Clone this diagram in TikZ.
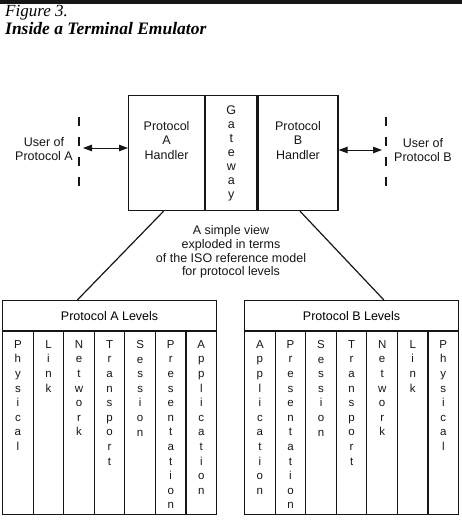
\documentclass[tikz,border=0pt]{standalone}
\usepackage{fontspec}
\setmainfont{Liberation Serif}
\setsansfont{Liberation Sans}
\usetikzlibrary{arrows.meta, positioning, calc}
\definecolor{inkDark}{HTML}{161616}
\setlength{\parindent}{0pt}
\makeatletter
\def\vword#1{\expandafter\vw@go#1\@nil}
\def\vw@go#1{\ifx#1\@nil\else#1\par\expandafter\vw@go\fi}
\makeatother
\tikzset{
  arrowBoth/.style={{Triangle[length=9pt,width=6.5pt]}-{Triangle[length=9pt,width=6.5pt]},
                    inkDark, line width=1pt},
  sepLine/.style={inkDark, line width=1.2pt, dash pattern=on 9pt off 11pt},
  boxTop/.style={rectangle, draw=inkDark, line width=1.2pt, minimum height=115pt,
                 inner sep=0pt, anchor=north west},
  txtTop/.style={inner sep=0pt, align=center, anchor=north, text=inkDark,
                 font=\sffamily\fontsize{12.5}{14.5}\selectfont},
  txtPlain/.style={inner sep=0pt, align=center, text=inkDark,
                   font=\sffamily\fontsize{12.5}{13.8}\selectfont},
  lvlHead/.style={rectangle, draw=inkDark, line width=1.2pt, minimum width=214pt,
                  minimum height=30pt, inner sep=0pt, anchor=north west,
                  font=\sffamily\fontsize{12.5}{14}\selectfont},
  lvlCol/.style={rectangle, draw=inkDark, line width=1.2pt, minimum width=30.57pt,
                 minimum height=183pt, inner sep=0pt, anchor=north west},
  lvlText/.style={text width=20pt, align=center, anchor=north, inner sep=0pt, text=inkDark,
                  font=\sffamily\fontsize{11.5}{14.6}\selectfont},
}
\begin{document}
\begin{tikzpicture}[x=1pt, y=-1pt]
  \useasboundingbox (0,0) rectangle (462,524);
  \draw[line width=4pt, inkDark] (0,2) -- (462,2);
  \node[anchor=base west, inner sep=0pt, font=\itshape\fontsize{17}{20}\selectfont] (fig) at (5,17) {Figure 3.};
  \node[anchor=base west, inner sep=0pt, font=\bfseries\itshape\fontsize{17.5}{20}\selectfont] (ttl) at (5,35) {Inside a Terminal Emulator};

  % the emulator
  \node[boxTop, minimum width=76pt] (handA) at (128,95) {};
  \node[boxTop, minimum width=51pt, right=0pt of handA.north east, anchor=north west] (gate) {};
  \node[boxTop, minimum width=80pt, right=0pt of gate.north east, anchor=north west] (handB) {};
  \node[txtTop, below=26pt of handA.north] (handAtxt) {Protocol\\A\\Handler};
  \node[txtTop, below=26pt of handB.north] (handBtxt) {Protocol\\B\\Handler};
  \node[txtTop, below=11pt of gate.north, font=\sffamily\fontsize{12.5}{14}\selectfont] (gatetxt) {G\\a\\t\\e\\w\\a\\y};

  % users on both sides
  \node[txtPlain] (userA) at (44,149) {User of\\Protocol A};
  \node[txtPlain] (userB) at (423,150) {User of\\Protocol B};
  \coordinate (sepA) at (79,148);
  \coordinate (sepB) at (386,150);
  \draw[sepLine] (79,117) -- (79,186);
  \draw[sepLine] (386,117) -- (386,186);
  \draw[arrowBoth] ([xshift=4pt]sepA) -- (handA.west |- sepA);
  \draw[arrowBoth] (handB.east |- sepB) -- ([xshift=-4pt]sepB);

  \node[txtPlain] (explain) at (231,252) {A simple view\\exploded in terms\\of the ISO reference model\\for protocol levels};

  % the two level stacks
  \node[lvlHead] (levA) at (2,300) {Protocol A Levels};
  \node[lvlHead] (levB) at (244,300) {Protocol B Levels};
  \foreach \w [count=\i] in {Physical,Link,Network,Transport,Session,Presentation,Application} {
    \node[lvlCol] (a\i) at ($(levA.south west)+(\i*30.57-30.57,0)$) {};
    \node[lvlText] (ta\i) at ([yshift=-9pt]a\i.north) {\vword{\w}};
  }
  \foreach \w [count=\i] in {Application,Presentation,Session,Transport,Network,Link,Physical} {
    \node[lvlCol] (b\i) at ($(levB.south west)+(\i*30.57-30.57,0)$) {};
    \node[lvlText] (tb\i) at ([yshift=-9pt]b\i.north) {\vword{\w}};
  }

  \draw[inkDark, line width=1.2pt] ([xshift=-3pt]handA.south) -- ($(levA.north west)!0.35!(levA.north east)$);
  \draw[inkDark, line width=1.2pt] ([xshift=2pt]handB.south) -- ($(levB.north west)!0.65!(levB.north east)$);
\end{tikzpicture}
\end{document}
